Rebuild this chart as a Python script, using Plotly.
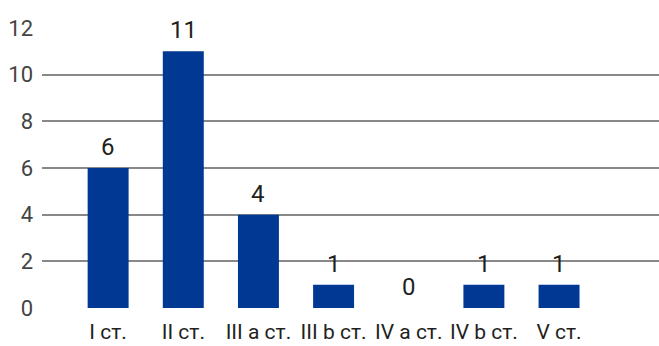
import plotly.graph_objects as go

# Number of cases per stage
stages = ["I ст.", "II ст.", "III a ст.", "III b ст.", "IV a ст.", "IV b ст.", "V ст."]
counts = [6, 11, 4, 1, 0, 1, 1]
y_ticks = [0, 2, 4, 6, 8, 10, 12]

FONT = "Roboto, Liberation Sans, sans-serif"
TEXT = "#231f20"

positions = list(range(len(stages)))

fig = go.Figure(
    go.Bar(
        x=positions,
        y=counts,
        width=0.545,
        marker=dict(color="#003893", line=dict(width=0)),
        hoverinfo="x+y",
    )
)

# Value labels sitting a little above each bar
for pos, val in zip(positions, counts):
    fig.add_annotation(
        x=pos,
        y=val,
        text=str(val),
        showarrow=False,
        xanchor="center",
        yanchor="bottom",
        yshift=5,
        font=dict(family=FONT, size=24, color=TEXT),
    )

fig.update_layout(
    width=659,
    height=346,
    margin=dict(l=42, r=0, t=28, b=38),
    paper_bgcolor="white",
    plot_bgcolor="white",
    showlegend=False,
    font=dict(family=FONT, color=TEXT),
    xaxis=dict(
        range=[-0.88, 7.33],
        tickmode="array",
        tickvals=positions,
        ticktext=stages,
        tickfont=dict(family=FONT, size=21, color=TEXT),
        showgrid=False,
        zeroline=False,
        showline=False,
        ticks="",
        ticklabelstandoff=9,
        automargin=False,
    ),
    yaxis=dict(
        range=[0, 12],
        tickmode="array",
        tickvals=y_ticks,
        tickfont=dict(family=FONT, size=22, color="#444444"),
        showgrid=True,
        gridcolor="#888888",
        gridwidth=1.5,
        zeroline=False,
        showline=False,
        ticks="",
        ticklabelstandoff=8,
        automargin=False,
    ),
)

fig.write_html("out.html")
